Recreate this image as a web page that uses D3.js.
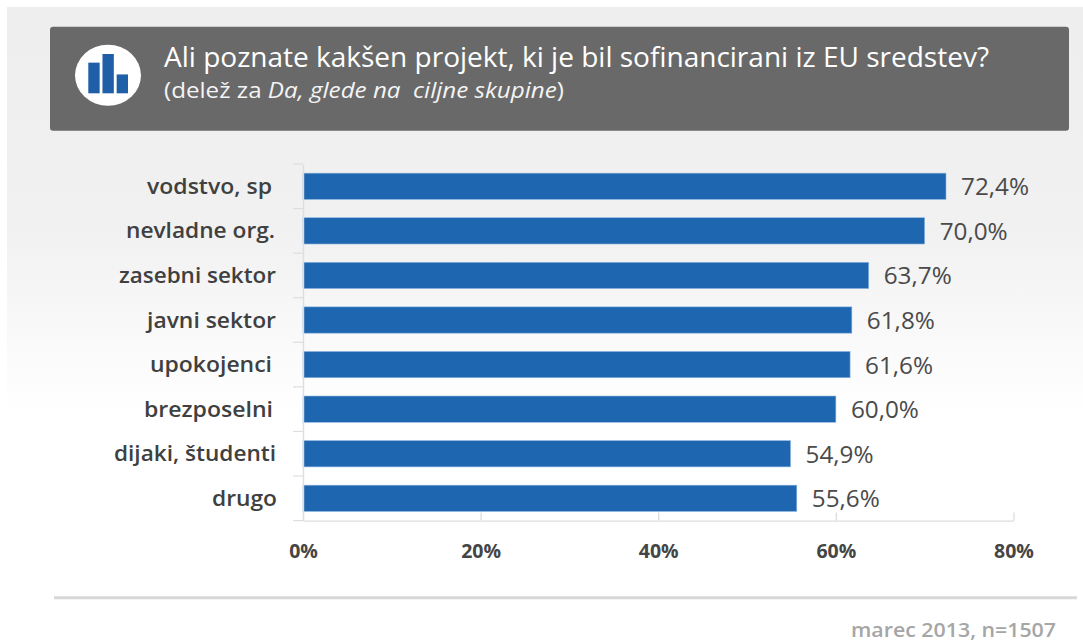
<!DOCTYPE html>
<html><head><meta charset="utf-8">
<script src="https://d3js.org/d3.v7.min.js"></script>
<style>html,body{margin:0;padding:0;background:#fff}svg{display:block}text{font-family:"Open Sans",sans-serif}</style>
</head><body><svg id="c" width="1083" height="643"></svg>
<script>
const categories=["vodstvo, sp","nevladne org.","zasebni sektor","javni sektor","upokojenci","brezposelni","dijaki, študenti","drugo"];
const values=[72.4,70.0,63.7,61.8,61.6,60.0,54.9,55.6];
const valueLabels=["72,4%","70,0%","63,7%","61,8%","61,6%","60,0%","54,9%","55,6%"];
const labelEnds=[272,275,276,276,272,273,276,277];
const labelWidths=[125,149,157,129,122,129,162,65];
const ticks=[0,20,40,60,80];
const iconBars=[[0,.78],[1,1],[2,.48]];
const svg=d3.select("#c");
const defs=svg.append("defs");
const g=defs.append("linearGradient").attr("id","bg").attr("x1",0).attr("x2",0).attr("y1",0).attr("y2",1);
g.append("stop").attr("offset",0).attr("stop-color","#eeeeee");
g.append("stop").attr("offset",.55).attr("stop-color","#f1f1f1");
g.append("stop").attr("offset",1).attr("stop-color","#ffffff");
svg.append("rect").attr("x",7).attr("y",7).attr("width",1076).attr("height",406).attr("fill","url(#bg)");
svg.append("rect").attr("x",50).attr("y",26.7).attr("width",1019).attr("height",104).attr("rx",3).attr("fill","#696969");
svg.append("ellipse").attr("cx",108).attr("cy",75.3).attr("rx",33).attr("ry",30.5).attr("fill","#fff");
const ix=d3.scaleBand().domain([0,1,2]).range([88.3,128]).paddingInner(.2);
const iy=d3.scaleLinear().domain([0,1]).range([93.3,54]);
svg.selectAll(".ib").data(iconBars).join("rect").attr("x",d=>ix(d[0])).attr("width",ix.bandwidth()).attr("y",d=>iy(d[1])).attr("height",d=>93.3-iy(d[1])).attr("fill","#1f5fa8");
svg.append("text").attr("x",164).attr("y",67).attr("font-size",27).attr("fill","#fff").attr("textLength",825).attr("lengthAdjust","spacingAndGlyphs").text("Ali poznate kakšen projekt, ki je bil sofinancirani iz EU sredstev?");
const sub=svg.append("text").attr("x",164).attr("y",98).attr("font-size",21).attr("fill","#f4f4f4").attr("textLength",400).attr("lengthAdjust","spacingAndGlyphs").style("white-space","pre");
sub.append("tspan").text("(delež za ");
sub.append("tspan").attr("font-style","italic").text("Da, glede na  ciljne skupine");
sub.append("tspan").text(")");
const x=d3.scaleLinear().domain([0,80]).range([303,1013.5]);
const y=d3.scaleBand().domain(categories).range([164,520.6]).paddingInner(.41).paddingOuter(.205);
svg.selectAll(".bar").data(values).join("rect").attr("x",x(0)).attr("y",(d,i)=>y(categories[i])).attr("width",d=>x(d)-x(0)).attr("height",y.bandwidth()).attr("fill","#1f66b0").attr("stroke","#8fb8e0").attr("stroke-width",.6);
svg.selectAll(".v").data(values).join("text").attr("x",d=>x(d)+15).attr("y",(d,i)=>y(categories[i])+y.bandwidth()/2+9).attr("font-size",23).attr("fill","#4a4a4a").attr("textLength",68).attr("lengthAdjust","spacingAndGlyphs").text((d,i)=>valueLabels[i]);
svg.selectAll(".c").data(categories).join("text").attr("x",(d,i)=>labelEnds[i]-labelWidths[i]).attr("y",d=>y(d)+y.bandwidth()/2+7.5).attr("font-size",22).attr("font-weight",600).attr("fill","#404040").attr("textLength",(d,i)=>labelWidths[i]).attr("lengthAdjust","spacingAndGlyphs").text(d=>d);
const ax=svg.append("g").attr("transform","translate(0,520.6)").call(d3.axisBottom(x).tickValues(ticks).tickFormat(d=>d+"%").tickSizeInner(-8).tickSizeOuter(0));
ax.selectAll("path,line").attr("stroke","#dedede").attr("stroke-width",1.4);
ax.selectAll("text").attr("font-size",19.5).attr("font-weight",700).attr("fill","#454545").attr("dy","0.35em").attr("y",31).style("font-family",'"Open Sans",sans-serif');
const ay=svg.append("g").attr("transform","translate(303,0)").call(d3.axisLeft(y).tickValues([]).tickSizeOuter(0));
ay.select(".domain").attr("stroke","#dedede").attr("stroke-width",1.4);
const bandEdges=d3.range(categories.length+1).map(i=>y.range()[0]+i*y.step());
ay.selectAll(".edge").data(bandEdges).join("line").attr("x1",-10).attr("x2",0).attr("y1",d=>d).attr("y2",d=>d).attr("stroke","#dedede").attr("stroke-width",1.2);
svg.append("line").attr("x1",54).attr("x2",1077).attr("y1",597.7).attr("y2",597.7).attr("stroke","#d8d8d8").attr("stroke-width",3);
svg.append("text").attr("x",851).attr("y",637).attr("font-size",20).attr("font-weight",600).attr("fill","#a6a6a6").attr("textLength",205).attr("lengthAdjust","spacingAndGlyphs").text("marec 2013, n=1507");
</script></body></html>
